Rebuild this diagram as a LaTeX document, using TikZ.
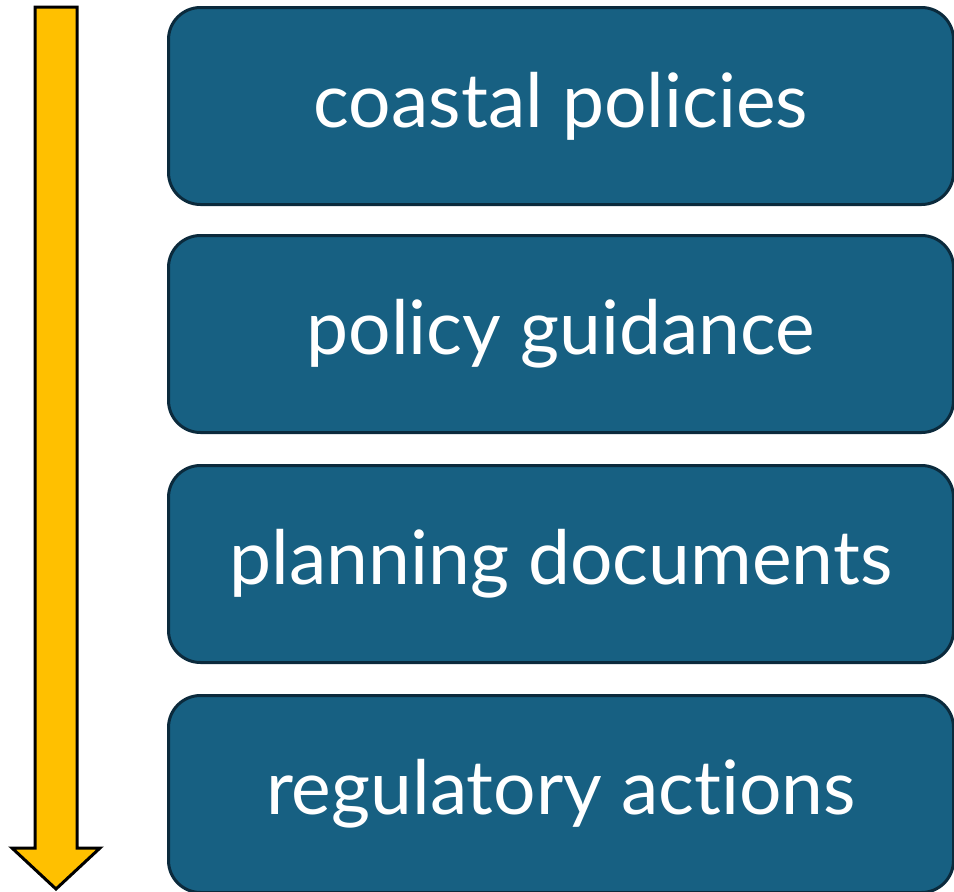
\documentclass[tikz,border=0pt]{standalone}
\usepackage{fontspec}
\setmainfont{Lato}[Ligatures=NoCommon]
\definecolor{boxfill}{HTML}{176082}
\definecolor{boxline}{HTML}{0B2A3C}
\definecolor{arrowfill}{HTML}{FFC000}
\begin{document}
\begin{tikzpicture}[x=1pt,y=-1pt,
  level/.style={draw=boxline, line width=3pt, fill=boxfill, rounded corners=32pt,
    minimum width=785pt, minimum height=197pt, inner sep=0pt,
    text=white, font=\fontsize{75}{84}\selectfont, anchor=north west}]
\useasboundingbox (0,0) rectangle (954,892);
\node[level] (b1) at (167,6) {coastal policies};
\node[level] (b2) at (167,234) {policy guidance};
\node[level] (b3) at (167,464) {planning documents};
\node[level] (b4) at (167,694) {regulatory actions};
\draw[line width=3pt, fill=arrowfill, line join=miter]
  (35,7) -- (77,7) -- (77,848) -- (100,848) -- (56,889) -- (12,848) -- (35,848) -- cycle;
\end{tikzpicture}
\end{document}
